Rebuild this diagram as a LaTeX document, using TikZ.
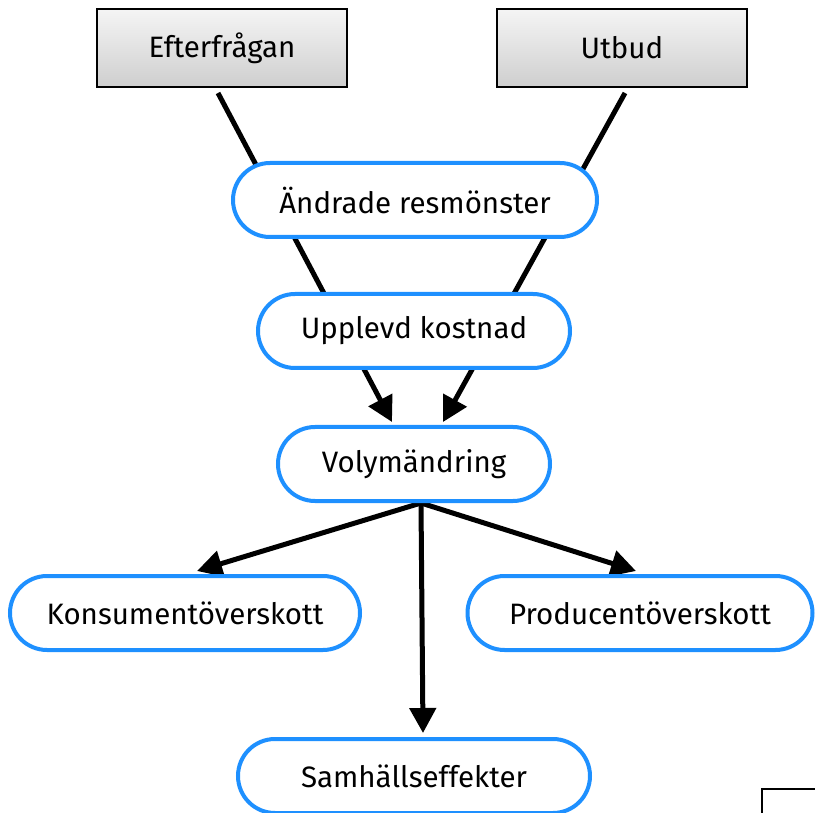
\documentclass[tikz,border=0pt]{standalone}
\usepackage{fontspec}
\setmainfont{Fira Sans}
\usetikzlibrary{arrows.meta,calc,shadows}
\definecolor{pillblue}{RGB}{30,144,255}
\pgfdeclarelayer{bg}
\pgfsetlayers{bg,main}
\tikzset{
  graybox/.style={draw=black, line width=2pt, top color=gray!8, bottom color=gray!38,
    minimum width=250pt, minimum height=78pt, inner sep=0pt,
    font=\fontsize{29.5}{34}\selectfont},
  pill/.style={draw=pillblue, fill=white, line width=4pt, rounded corners=37pt,
    minimum height=74pt, inner sep=0pt, font=\fontsize{29.5}{34}\selectfont},
  conn/.style={line width=5pt, black},
  arr/.style={conn, -{Triangle[length=25pt,width=26pt]}},
}
\begin{document}
\begin{tikzpicture}[x=1pt,y=-1pt]
\useasboundingbox (0,0) rectangle (815,813);
\node[graybox] (eft) at (222,48) {Efterfrågan};
\node[graybox] (utb) at (622,48) {Utbud};
\node[pill, minimum width=364pt] (andr) at (415,200) {Ändrade resmönster};
\node[pill, minimum width=312pt] (upp) at (414,331) {Upplevd kostnad};
\node[pill, minimum width=272pt] (vol) at (414,464) {Volymändring};
\node[pill, minimum width=350pt] (kons) at (185,613) {Konsumentöverskott};
\node[pill, minimum width=345pt] (prod) at (640,613) {Producentöverskott};
\node[pill, minimum width=352pt] (samh) at (414,776) {Samhällseffekter};
\coordinate (volout) at ($(vol.south)+(7,0)$);
\begin{pgfonlayer}{bg}
\draw[arr] ($(eft.south)+(-4,5)$) -- ($(vol.north)+(-22,-3)$);
\draw[arr] ($(utb.south)+(3,5)$) -- ($(vol.north)+(29,-3)$);
\draw[arr] (volout) -- ($(kons.north)+(12,-3)$);
\draw[arr] (volout) -- ($(prod.north)+(-4,-3)$);
\draw[arr] (volout) -- ($(samh.north)+(9,-4)$);
\end{pgfonlayer}
\draw[line width=2pt] (762,813) -- (762,789) -- (815,789);
\end{tikzpicture}
\end{document}
